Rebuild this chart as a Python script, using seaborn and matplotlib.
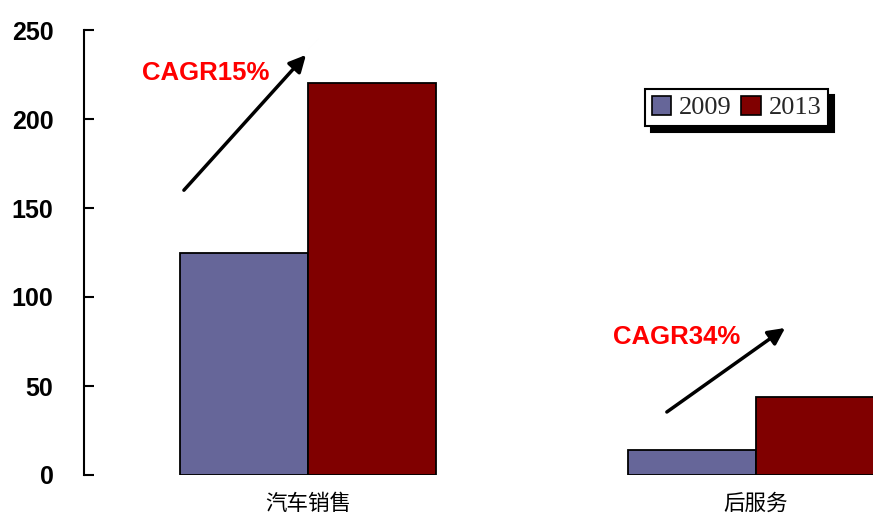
import matplotlib
matplotlib.use('Agg')
import matplotlib.pyplot as plt
import seaborn as sns
import pandas as pd

# Market size by segment, two years
categories = ['汽车销售', '后服务']
years = ['2009', '2013']
values_2009 = [125, 14]
values_2013 = [220, 44]
yticks = [0, 50, 100, 150, 200, 250]
growth_labels = ['CAGR15%', 'CAGR34%']
colors = ['#666699', '#800000']

df = pd.DataFrame({
    'category': categories * 2,
    'year': [years[0]] * len(categories) + [years[1]] * len(categories),
    'value': values_2009 + values_2013,
})

sns.set_theme(style='white')
plt.rcParams['font.family'] = ['Liberation Sans', 'Noto Sans CJK SC', 'DejaVu Sans']

W, H = 873, 518
fig = plt.figure(figsize=(W / 100, H / 100), dpi=100, facecolor='white')
ax = fig.add_axes([84 / W, 43 / H, 896 / W, 445 / H])

sns.barplot(data=df, x='category', y='value', hue='year',
            order=categories, hue_order=years, palette=colors,
            width=0.571, gap=0, saturation=1,
            edgecolor='black', linewidth=1.3, ax=ax)

ax.set_xlim(-0.5, 1.5)
ax.set_ylim(0, 250)
ax.set_yticks(yticks)
ax.set_xlabel('')
ax.set_ylabel('')

for side in ('top', 'right', 'bottom'):
    ax.spines[side].set_visible(False)
ax.spines['left'].set_color('black')
ax.spines['left'].set_linewidth(1.5)

ax.tick_params(axis='y', direction='in', length=7, width=1.5, color='black',
               pad=22, labelsize=18, left=True)
for lbl in ax.get_yticklabels():
    lbl.set_fontweight('bold')
    lbl.set_color('black')

ax.tick_params(axis='x', length=0, pad=13)
for lbl in ax.get_xticklabels():
    lbl.set_fontfamily(['Noto Sans CJK SC', 'DejaVu Sans'])
    lbl.set_fontsize(15.5)
    lbl.set_fontweight('medium')
    lbl.set_color('black')

# Growth arrows and labels
arrow_style = dict(arrowstyle='-|>', color='black', lw=2.5, mutation_scale=25,
                   shrinkA=0, shrinkB=0)
ax.annotate('', xy=(-0.0045, 236), xytext=(-0.277, 160), arrowprops=arrow_style)
ax.annotate('', xy=(1.065, 82.6), xytext=(0.801, 35.4), arrowprops=arrow_style)
ax.text(-0.3705, 226, growth_labels[0], color='red', fontsize=18.5,
        fontweight='bold', ha='left', va='center')
ax.text(0.681, 77.5, growth_labels[1], color='red', fontsize=18.5,
        fontweight='bold', ha='left', va='center')

handles, labels = ax.get_legend_handles_labels()
if ax.get_legend() is not None:
    ax.get_legend().remove()
leg = ax.legend(handles, labels, ncol=2, loc='upper left',
                bbox_to_anchor=(645 / W, 1 - 89 / H), bbox_transform=fig.transFigure,
                frameon=True, fancybox=False,
                shadow={'ox': 4, 'oy': -4, 'color': 'black', 'alpha': 1},
                prop={'family': 'Liberation Serif', 'size': 19},
                handlelength=0.75, handleheight=0.75, handletextpad=0.3,
                columnspacing=0.35, borderpad=0.25, borderaxespad=0)
leg.get_frame().set_edgecolor('black')
leg.get_frame().set_linewidth(1.5)
leg.get_frame().set_facecolor('white')
leg.get_frame().set_alpha(1)
for h in leg.legend_handles:
    h.set_edgecolor('black')
    h.set_linewidth(1.2)

fig.savefig('out.png', dpi=100)
